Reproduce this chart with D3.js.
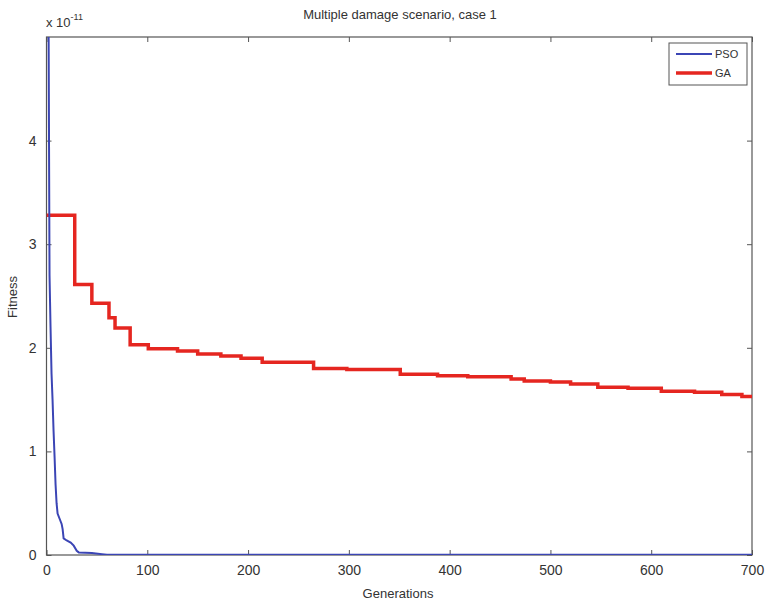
<!DOCTYPE html>
<html>
<head>
<meta charset="utf-8">
<script src="https://cdn.jsdelivr.net/npm/d3@7"></script>
<style>
  body { margin: 0; background: #fff; }
  text { font-family: "Liberation Sans", Arial, sans-serif; fill: #333; }
</style>
</head>
<body>
<div id="chart"></div>
<script>
// Data (fitness in units of 1e-11)
const psoGen = [2, 3, 4, 5, 6, 7, 8, 9, 10, 11, 13, 15, 16, 17, 20, 24, 27, 30, 32, 45, 55, 60, 700];
const psoFit = [5.3, 2.7, 2.2, 1.75, 1.5, 1.2, 0.95, 0.68, 0.5, 0.4, 0.35, 0.3, 0.25, 0.16, 0.14, 0.12, 0.09, 0.04, 0.025, 0.02, 0.008, 0.003, 0.003];

const gaGen = [0, 28, 45, 62, 68, 83, 101, 130, 150, 173, 193, 214, 265, 298, 351, 388, 418, 461, 474, 500, 520, 547, 577, 610, 643, 670, 690, 700];
const gaFit = [3.28, 2.61, 2.43, 2.29, 2.19, 2.03, 1.99, 1.97, 1.94, 1.92, 1.90, 1.86, 1.80, 1.79, 1.745, 1.73, 1.72, 1.70, 1.68, 1.67, 1.65, 1.62, 1.61, 1.58, 1.57, 1.55, 1.53, 1.52];

const xTicks = [0, 100, 200, 300, 400, 500, 600, 700];
const yTicks = [0, 1, 2, 3, 4];
const series = ["PSO", "GA"];

// Set up SVG dimensions
const width = 766, height = 605, margin = { top: 37, right: 14, bottom: 50, left: 46.5 };

const svg = d3.select("#chart").append("svg").attr("width", width).attr("height", height);

const x = d3.scaleLinear().domain([0, 700]).range([margin.left, width - margin.right]);
const y = d3.scaleLinear().domain([0, 5]).range([height - margin.bottom, margin.top]);
const color = d3.scaleOrdinal().domain(series).range(["#3b45b5", "#e52620"]);

// Clip for lines
svg.append("clipPath").attr("id", "clip").append("rect")
    .attr("x", margin.left).attr("y", margin.top)
    .attr("width", x(700) - margin.left).attr("height", y(0) - margin.top);

const axisColor = "#555";
const tickLen = 5;

// Axes with inward ticks
const gx = svg.append("g").attr("transform", `translate(0, ${y(0)})`)
    .call(d3.axisBottom(x).tickValues(xTicks).tickFormat(d3.format("d")).tickSizeInner(-tickLen).tickSizeOuter(0).tickPadding(10));
const gy = svg.append("g").attr("transform", `translate(${x(0)}, 0)`)
    .call(d3.axisLeft(y).tickValues(yTicks).tickFormat(d3.format("d")).tickSizeInner(-tickLen).tickSizeOuter(0).tickPadding(10));
// Mirrored ticks on top and right
const gxt = svg.append("g").attr("transform", `translate(0, ${y(5)})`)
    .call(d3.axisTop(x).tickValues(xTicks).tickSizeInner(-tickLen).tickSizeOuter(0).tickFormat(""));
const gyr = svg.append("g").attr("transform", `translate(${x(700)}, 0)`)
    .call(d3.axisRight(y).tickValues(yTicks).tickSizeInner(-tickLen).tickSizeOuter(0).tickFormat(""));

[gx, gy, gxt, gyr].forEach(g => {
    g.select(".domain").remove();
    g.selectAll("line").attr("stroke", axisColor);
    g.selectAll("text").style("font-size", "14px").attr("fill", "#333")
        .style("font-family", "'Liberation Sans', Arial, sans-serif");
});

// Box
svg.append("rect")
    .attr("x", x(0)).attr("y", y(5))
    .attr("width", x(700) - x(0)).attr("height", y(0) - y(5))
    .attr("fill", "none").attr("stroke", axisColor).attr("stroke-width", 1.2);

// Lines
const psoData = psoGen.map((g, i) => ({ g, f: psoFit[i] }));
const gaData = gaGen.map((g, i) => ({ g, f: gaFit[i] }));

const plot = svg.append("g").attr("clip-path", "url(#clip)");

plot.append("path")
    .datum(gaData)
    .attr("fill", "none")
    .attr("stroke", color("GA"))
    .attr("stroke-width", 3.5)
    .attr("d", d3.line().x(d => x(d.g)).y(d => y(d.f)).curve(d3.curveStepAfter));

plot.append("path")
    .datum(psoData)
    .attr("fill", "none")
    .attr("stroke", color("PSO"))
    .attr("stroke-width", 2)
    .attr("d", d3.line().x(d => x(d.g)).y(d => y(d.f)));

// Title
svg.append("text").attr("x", 400).attr("y", 19).attr("text-anchor", "middle")
    .style("font-size", "13px").text("Multiple damage scenario, case 1");

// Exponent label
const expo = svg.append("text").attr("x", 46).attr("y", 27).style("font-size", "13px");
expo.append("tspan").text("x 10");
expo.append("tspan").attr("dy", -7).style("font-size", "9px").text("-11");

// Axis labels
svg.append("text").attr("x", 398).attr("y", 598).attr("text-anchor", "middle")
    .style("font-size", "13px").text("Generations");
svg.append("text").attr("transform", `translate(17, 297) rotate(-90)`).attr("text-anchor", "middle")
    .style("font-size", "13px").text("Fitness");

// Legend
const legend = svg.append("g");
legend.append("rect").attr("x", 669).attr("y", 43).attr("width", 78).attr("height", 42)
    .attr("fill", "#fff").attr("stroke", axisColor).attr("stroke-width", 1);
series.forEach((s, i) => {
    const ly = 54 + i * 19;
    legend.append("line").attr("x1", 676).attr("x2", 712).attr("y1", ly).attr("y2", ly)
        .attr("stroke", color(s)).attr("stroke-width", s === "GA" ? 3.5 : 2);
    legend.append("text").attr("x", 715).attr("y", ly + 4).style("font-size", "11px").text(s);
});
</script>
</body>
</html>
